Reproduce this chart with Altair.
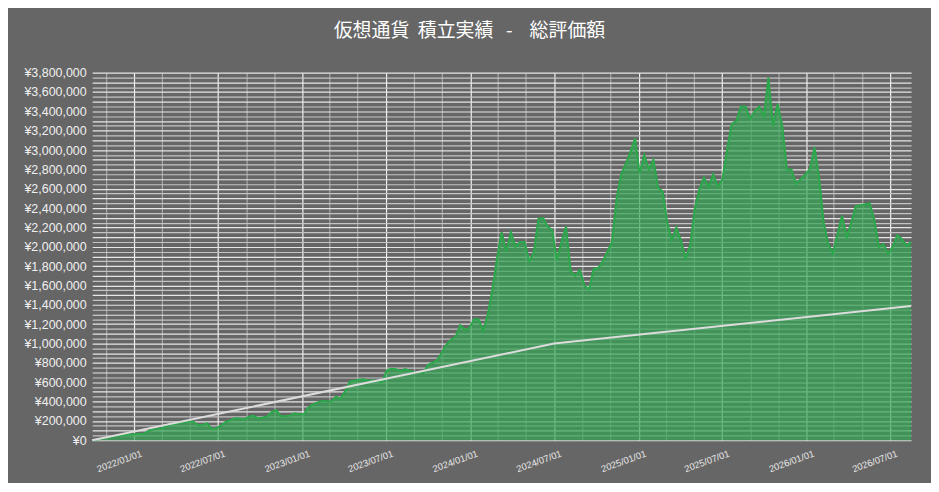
import altair as alt
import pandas as pd

# ---- data ----
start_date = "2021-10-01"
step = "10D"
total_value = [
    0, 8000, 17000, 26000, 34000, 42000, 48000, 55000, 60000, 62000,
    68000, 62000, 90000, 108000, 115000, 122000, 145000, 160000, 168000, 182000,
    188000, 196000, 192000, 155000, 160000, 175000, 115000, 125000, 150000, 190000,
    205000, 228000, 225000, 218000, 240000, 255000, 228000, 235000, 244000, 290000,
    312000, 250000, 248000, 257000, 278000, 270000, 268000, 340000, 370000, 392000,
    405000, 400000, 400000, 450000, 430000, 510000, 605000, 615000, 625000, 630000,
    615000, 620000, 610000, 600000, 720000, 738000, 735000, 714000, 735000, 720000,
    700000, 707000, 695000, 780000, 800000, 830000, 905000, 990000, 1040000, 1070000,
    1190000, 1140000, 1160000, 1250000, 1250000, 1130000, 1300000, 1560000, 1880000, 2150000,
    1950000, 2150000, 2000000, 2050000, 2050000, 1850000, 1940000, 2290000, 2300000, 2210000,
    2170000, 1860000, 2050000, 2210000, 1750000, 1700000, 1760000, 1600000, 1560000, 1770000,
    1780000, 1850000, 1950000, 2050000, 2500000, 2750000, 2860000, 2980000, 3120000, 2760000,
    2950000, 2800000, 2900000, 2610000, 2570000, 2250000, 2070000, 2200000, 2060000, 1880000,
    2020000, 2400000, 2600000, 2720000, 2620000, 2750000, 2620000, 2700000, 3000000, 3270000,
    3300000, 3450000, 3450000, 3320000, 3400000, 3450000, 3350000, 3750000, 3250000, 3480000,
    3250000, 2800000, 2800000, 2650000, 2700000, 2750000, 2800000, 3030000, 2720000, 2250000,
    2030000, 1930000, 2130000, 2320000, 2100000, 2250000, 2420000, 2430000, 2440000, 2450000,
    2280000, 2000000, 2030000, 1930000, 2000000, 2120000, 2080000, 2010000, 2050000,
]
invest_dates = ["2021-10-01", "2024-07-01", "2026-08-16"]
invest_values = [0, 1000000, 1388000]

NB = "\u00a0"
title_text = "仮想通貨" + NB * 2 + "積立実績" + NB * 3 + "-" + NB * 4 + "総評価額"

# ---- tables ----
dates = pd.date_range(start_date, periods=len(total_value), freq=step)
df_total = pd.DataFrame({"date": dates.strftime("%Y-%m-%d"), "value": total_value, "kind": "total"})
df_inv = pd.DataFrame({"date": invest_dates, "value": invest_values, "kind": "invest"})

x_ticks = [int(pd.Timestamp(d, tz="UTC").timestamp() * 1000)
           for d in pd.date_range("2021-11-01", "2026-07-01", freq="2MS")]
y_ticks = list(range(0, 3800001, 50000))

x_dom = [int(pd.Timestamp(start_date, tz="UTC").timestamp() * 1000),
         int(pd.Timestamp(df_total["date"].iloc[-1], tz="UTC").timestamp() * 1000)]

x_enc = alt.X(
    "date:T",
    scale=alt.Scale(type="utc", domain=x_dom, nice=False),
    axis=alt.Axis(
        values=x_ticks,
        title=None,
        labelExpr="utcmonth(datum.value) % 6 == 0 ? utcFormat(datum.value, '%Y/%m/%d') : ''",
        labelAngle=-20,
        labelAlign="right",
        labelBaseline="top",
        labelFontSize=9.5,
        labelColor="#e6e6e6",
        labelFont="Liberation Sans",
        labelOverlap=False,
        labelFlush=False,
        labelPadding=8,
        labelOffset=5,
        ticks=False,
        domain=False,
        grid=True,
        gridColor={"condition": {"test": "utcmonth(datum.value) % 6 == 0", "value": "#f2f2f2"},
                   "value": "#a8a8a8"},
        gridWidth=1.2,
    ),
)
y_enc = alt.Y(
    "value:Q",
    scale=alt.Scale(domain=[0, 3800000], nice=False),
    axis=alt.Axis(
        values=y_ticks,
        title=None,
        labelExpr="datum.value % 200000 == 0 ? '¥' + format(datum.value, ',') : ''",
        labelFontSize=12.5,
        labelColor="#f0f0f0",
        labelFont="Liberation Sans",
        labelPadding=6,
        labelOverlap=False,
        ticks=False,
        domain=False,
        grid=True,
        gridColor={"condition": {"test": "datum.value % 100000 == 0", "value": "#e6e6e6"},
                   "value": "#c4c4c4"},
        gridWidth=1.2,
    ),
)

area = alt.Chart(df_total).mark_area(color="#33a555", opacity=0.7)
edge = alt.Chart(df_total).mark_line(color="#2aa84a", strokeWidth=2)
inv = alt.Chart(df_inv).mark_line(color="#dcdcdc", strokeWidth=2)

chart = (
    alt.layer(area, edge, inv)
    .encode(x=x_enc, y=y_enc)
    .properties(
        width=822,
        height=369,
        autosize=alt.AutoSizeParams(type="none"),
        padding={"left": 84.5, "top": 64, "right": 20, "bottom": 42},
        background="#666666",
        title=alt.TitleParams(
            title_text,
            font="Noto Sans CJK JP",
            fontSize=19,
            fontWeight="normal",
            color="#ffffff",
            anchor="middle",
            frame="bounds",
            offset=26,
        ),
    )
    .configure_view(stroke=None)
)

chart.save("out.html", embed_options={"renderer": "svg", "actions": False})
